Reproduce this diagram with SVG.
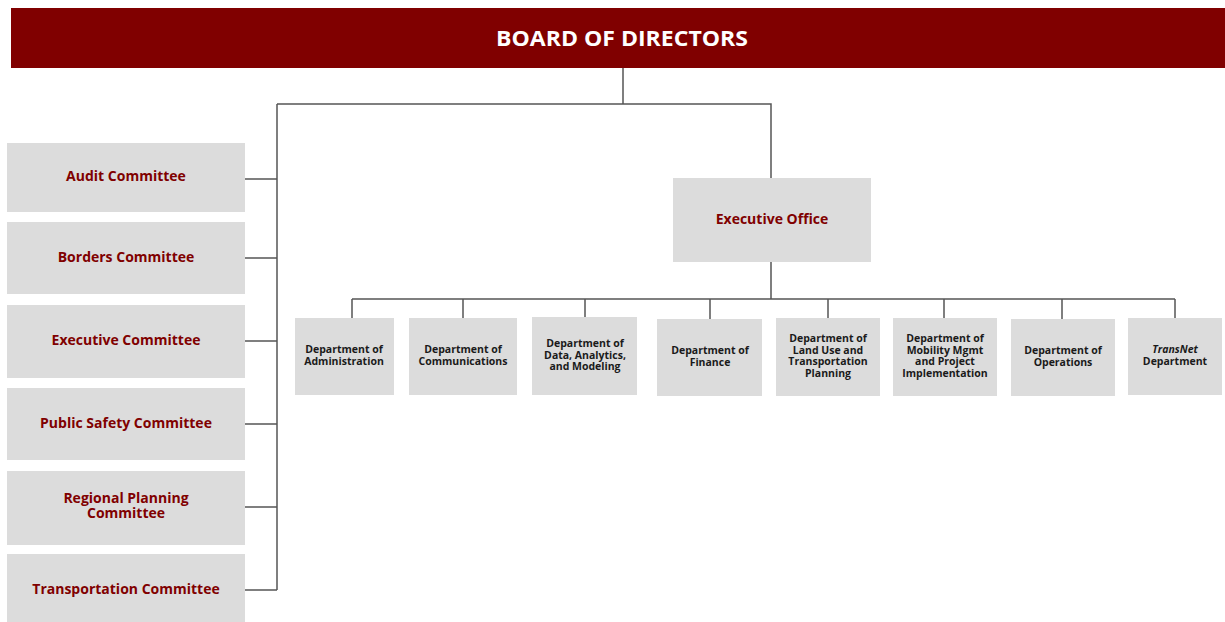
<svg xmlns="http://www.w3.org/2000/svg" width="1225" height="622" viewBox="0 0 1225 622">
<style>
.box{fill:#dcdcdc}
.c{font-family:"Open Sans","Noto Sans",sans-serif;font-weight:bold;fill:#800000;font-size:14px;text-anchor:middle}
.d{font-family:"Open Sans","Noto Sans",sans-serif;font-weight:bold;fill:#1a1a1a;font-size:10.5px;text-anchor:middle}
.ln{stroke:#555;stroke-width:1.5;fill:none}
</style>
<rect width="1225" height="622" fill="#fff"/>
<g id="board">
<rect x="11" y="8" width="1214" height="60" fill="#800000"/>
<text x="622" y="45.5" font-family="Open Sans, Noto Sans, sans-serif" font-weight="bold" font-size="21.5" fill="#fff" text-anchor="middle" textLength="252" lengthAdjust="spacingAndGlyphs">BOARD OF DIRECTORS</text>
</g>
<g id="connectors">
<path class="ln" d="M623 68V104M277 104H771V178M277 104V590"/>
<path class="ln" stroke="#222" d="M245 179H277M245 258H277M245 341H277M245 424H277M245 507H277M245 590H277"/>
<path class="ln" d="M771 262V299M352 299H1175M352 299V318M463 299V318M585 299V318M710 299V319M828 299V318M944 299V318M1062 299V319M1175 299V318"/>
</g>
<g id="audit"><rect class="box" x="7" y="143" width="238" height="69"/><text class="c" x="126" y="181">Audit Committee</text></g>
<g id="borders"><rect class="box" x="7" y="222" width="238" height="72"/><text class="c" x="126" y="262">Borders Committee</text></g>
<g id="executive-committee"><rect class="box" x="7" y="305" width="238" height="73"/><text class="c" x="126" y="345">Executive Committee</text></g>
<g id="public-safety"><rect class="box" x="7" y="388" width="238" height="72"/><text class="c" x="126" y="428">Public Safety Committee</text></g>
<g id="regional-planning"><rect class="box" x="7" y="471" width="238" height="74"/><text class="c"><tspan x="126" y="503">Regional Planning</tspan><tspan x="126" y="518">Committee</tspan></text></g>
<g id="transportation"><rect class="box" x="7" y="554" width="238" height="70"/><text class="c" x="126" y="594">Transportation Committee</text></g>
<g id="executive-office"><rect class="box" x="673" y="178" width="198" height="84"/><text class="c" x="772" y="224" font-size="15">Executive Office</text></g>
<g id="dept-admin"><rect class="box" x="295" y="318" width="99" height="77"/><text class="d"><tspan x="344" y="353">Department of</tspan><tspan x="344" y="365">Administration</tspan></text></g>
<g id="dept-comm"><rect class="box" x="409" y="318" width="108" height="77"/><text class="d"><tspan x="463" y="353">Department of</tspan><tspan x="463" y="365">Communications</tspan></text></g>
<g id="dept-data"><rect class="box" x="532" y="317" width="105" height="78"/><text class="d"><tspan x="585" y="347">Department of</tspan><tspan x="585" y="358.5">Data, Analytics,</tspan><tspan x="585" y="370">and Modeling</tspan></text></g>
<g id="dept-finance"><rect class="box" x="657" y="319" width="105" height="77"/><text class="d"><tspan x="710" y="354">Department of</tspan><tspan x="710" y="365.5">Finance</tspan></text></g>
<g id="dept-landuse"><rect class="box" x="776" y="318" width="104" height="78"/><text class="d"><tspan x="828" y="342">Department of</tspan><tspan x="828" y="353.5">Land Use and</tspan><tspan x="828" y="365">Transportation</tspan><tspan x="828" y="376.5">Planning</tspan></text></g>
<g id="dept-mobility"><rect class="box" x="893" y="318" width="104" height="78"/><text class="d"><tspan x="945" y="342">Department of</tspan><tspan x="945" y="353.5">Mobility Mgmt</tspan><tspan x="945" y="365">and Project</tspan><tspan x="945" y="376.5">Implementation</tspan></text></g>
<g id="dept-operations"><rect class="box" x="1011" y="319" width="104" height="77"/><text class="d"><tspan x="1063" y="354">Department of</tspan><tspan x="1063" y="365.5">Operations</tspan></text></g>
<g id="dept-transnet"><rect class="box" x="1128" y="318" width="94" height="77"/><text class="d"><tspan x="1175" y="353" font-style="italic">TransNet</tspan><tspan x="1175" y="364.5">Department</tspan></text></g>
</svg>
